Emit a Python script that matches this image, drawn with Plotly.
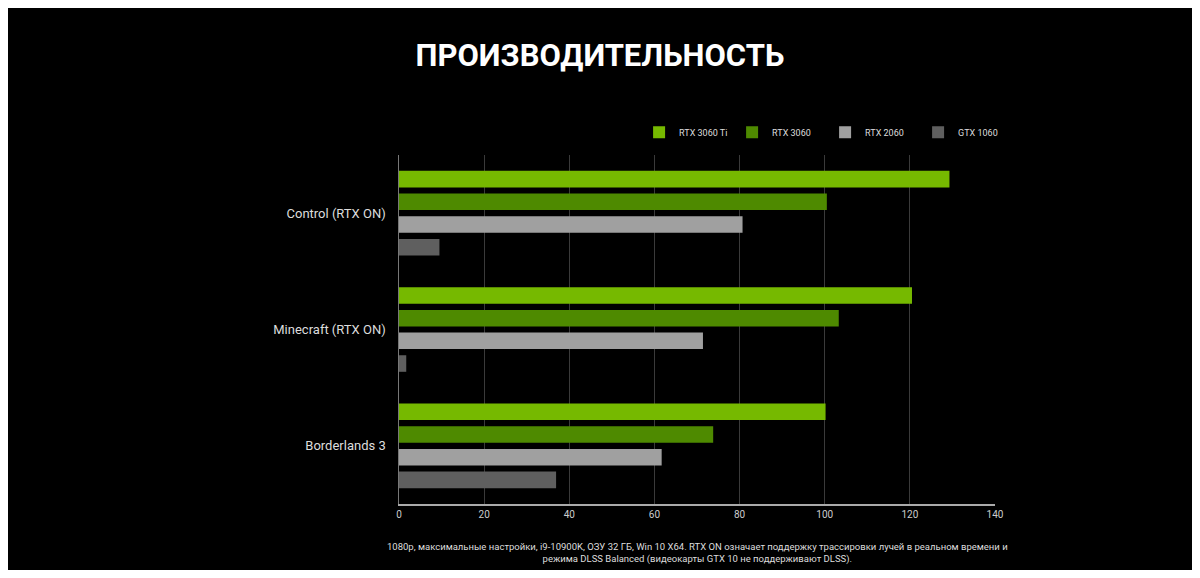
import plotly.graph_objects as go

games = ["Control (RTX ON)", "Minecraft (RTX ON)", "Borderlands 3"]
series = ["RTX 3060 Ti", "RTX 3060", "RTX 2060", "GTX 1060"]
rtx3060ti = [129.3, 120.5, 100.2]
rtx3060 = [100.5, 103.3, 73.8]
rtx2060 = [80.7, 71.4, 61.7]
gtx1060 = [9.5, 1.7, 36.9]
colors = ["#76b900", "#4e8a00", "#a0a0a0", "#5f5f5f"]

fig = go.Figure()
for name, vals, c in zip(series, [rtx3060ti, rtx3060, rtx2060, gtx1060], colors):
    fig.add_trace(go.Bar(y=games, x=vals, name=name, orientation="h", marker_color=c, marker_line_width=0))

fig.update_layout(
    width=1184, height=562, paper_bgcolor="black", plot_bgcolor="black",
    margin=dict(l=391, r=197, t=147, b=66),
    barmode="group", bargap=0.22, bargroupgap=0.27,
    font=dict(family="Roboto", color="white"),
    title=dict(text="<b>ПРОИЗВОДИТЕЛЬНОСТЬ</b>", x=0.5, xanchor="center", y=0.916, yanchor="middle",
               font=dict(size=31, color="white", family="Roboto")),
    legend=dict(orientation="h", x=1.027, xanchor="right", y=1.065, yanchor="middle",
                entrywidth=48, entrywidthmode="pixels",
                font=dict(size=9, color="#dddddd"), traceorder="normal", bgcolor="rgba(0,0,0,0)"),
    xaxis=dict(range=[0, 140], dtick=20, showgrid=True, gridcolor="#3a3a3a", gridwidth=1,
               showline=True, linecolor="#aaaaaa", linewidth=1.5, zeroline=False,
               tickfont=dict(size=10, color="#cccccc"), ticks=""),
    yaxis=dict(autorange="reversed", showline=True, linecolor="#777777", linewidth=1,
               tickfont=dict(size=13, color="#dddddd"), ticks="", ticksuffix="   "),
    annotations=[dict(text="1080p, максимальные настройки, i9-10900K, ОЗУ 32 ГБ, Win 10 X64. RTX ON означает поддержку трассировки лучей в реальном времени и<br>режима DLSS Balanced (видеокарты GTX 10 не поддерживают DLSS).",
                      xref="paper", yref="paper", x=0.5, y=-0.1, xanchor="center", yanchor="top",
                      showarrow=False, font=dict(size=9.5, color="#dddddd"))],
)
fig.write_html("out.html")
